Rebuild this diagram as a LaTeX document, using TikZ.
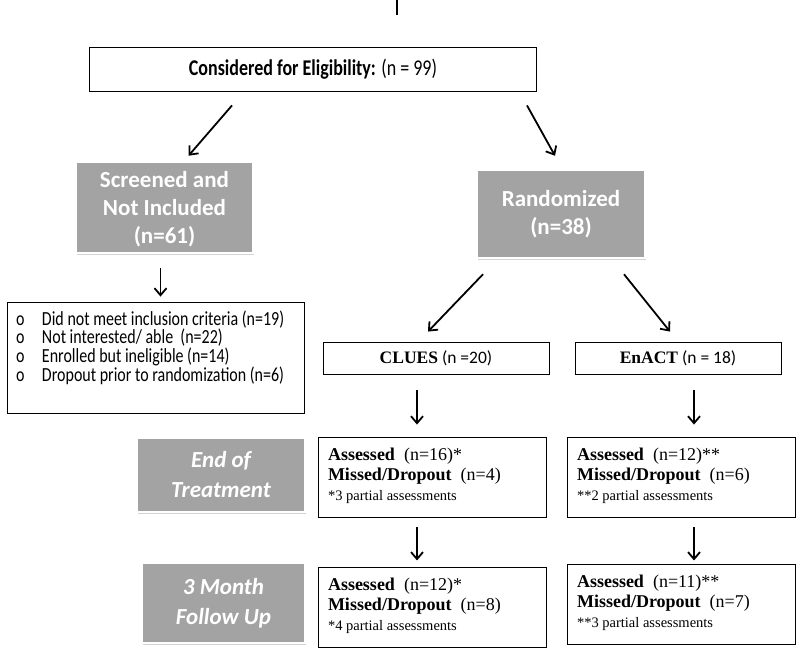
\documentclass[tikz,border=0pt]{standalone}
\usepackage{fontspec}
\setmainfont{Carlito}
\newfontfamily\cambria{Liberation Serif}
\newfontfamily\narrowsans[FakeStretch=0.8]{Carlito}
\usetikzlibrary{positioning,arrows.meta,shadows}
\definecolor{boxgray}{RGB}{163,163,163}

\newcommand{\resulttext}[4]{%
  \parbox[t][68pt][t]{208pt}{\fontsize{18}{20}\selectfont
    \rule{0pt}{17pt}\textbf{Assessed}\ \ (n=#1)#4\\
    \textbf{Missed/Dropout}\ \ (n=#2)\\[0pt]
    {\fontsize{14.5}{16}\selectfont #4#3 partial assessments}}}

\begin{document}
\begin{tikzpicture}[%
    x=1pt,
    y=-1pt,
    node distance=50pt,
    arr/.style={%
      -{Straight Barb[length=7pt,width=12pt]},
      line width=1.8pt
    },
    plainbox/.style={%
      rectangle,
      draw,
      line width=0.9pt,
      inner sep=0pt
    },
    graybox/.style={%
      rectangle,
      fill=boxgray,
      draw=white,
      line width=2.5pt,
      drop shadow={shadow xshift=1pt, shadow yshift=-2pt, opacity=0.35},
      text=white,
      align=center,
      inner sep=0pt,
      font=\fontsize{23}{28}\selectfont\bfseries
    },
    stagebox/.style={%
      graybox,
      font=\fontsize{23}{30}\selectfont\bfseries\itshape
    },
    resbox/.style={%
      rectangle,
      draw,
      line width=0.9pt,
      inner xsep=10pt,
      inner ysep=6pt,
      font=\cambria
    }
  ]
    \useasboundingbox (0,0) rectangle (800,659);

    % stub from above
    \coordinate (stubtop) at (397,0);
    \coordinate (stubend) at (397,15);
    \draw[line width=1.4pt] (stubtop) -- (stubend);

    \node[plainbox, minimum width=447pt, minimum height=44pt] (elig) at (313,69)
      {\narrowsans\fontsize{22.5}{24}\selectfont\textbf{Considered for Eligibility:} (n = 99)};

    \node[graybox, minimum width=177pt, minimum height=91pt] (screened) at (164.5,207.5)
      {\rule{0pt}{20pt}Screened and\\Not Included\\(n=61)};
    \node[graybox, minimum width=168pt, minimum height=88pt] (rand) at (561,214)
      {Randomized\\(n=38)};

    \node[plainbox, minimum width=297pt, minimum height=111pt] (crit) at (155.5,357.5)
      {\parbox[t][107pt][t]{285pt}{\narrowsans\fontsize{20}{18.7}\selectfont
        \rule{0pt}{21pt}\hspace*{3pt}\makebox[26pt][l]{o}Did not meet inclusion criteria (n=19)\\
        \hspace*{3pt}\makebox[26pt][l]{o}Not interested/ able\ \ (n=22)\\
        \hspace*{3pt}\makebox[26pt][l]{o}Enrolled but ineligible (n=14)\\
        \hspace*{3pt}\makebox[26pt][l]{o}Dropout prior to randomization (n=6)}};

    \node[plainbox, minimum width=226pt, minimum height=32pt] (clues) at (436,358)
      {\fontsize{17.5}{20}\selectfont{\cambria\bfseries CLUES}\ (n =20)};
    \node[plainbox, minimum width=206pt, minimum height=32pt] (enact) at (678,358)
      {\fontsize{17.5}{20}\selectfont{\cambria\bfseries EnACT}\ (n = 18)};

    \node[stagebox, minimum width=168pt, minimum height=74pt] (eot) at (221,475)
      {End of\\Treatment};
    \node[stagebox, minimum width=163pt, minimum height=80pt] (fu) at (223.5,603)
      {3 Month\\Follow Up};

    \node[resbox] (cluesEoT) at (432,477) {\resulttext{16}{4}{3}{*}};
    \node[resbox] (enactEoT) at (681,477) {\resulttext{12}{6}{2}{**}};
    \node[resbox] (cluesFU) [below=50pt of cluesEoT] {\resulttext{12}{8}{4}{*}};
    \node[resbox] (enactFU) [below=47pt of enactEoT] {\resulttext{11}{7}{3}{**}};

    \draw[arr] ([xshift=-81pt,yshift=-14pt]elig.south) -- ([xshift=24pt,yshift=5pt]screened.north);
    \draw[arr] ([xshift=214pt,yshift=-14pt]elig.south) -- ([xshift=-6pt,yshift=13pt]rand.north);
    \draw[arr] ([xshift=-4pt,yshift=-14pt]screened.south) -- ([xshift=5pt,yshift=5pt]crit.north);
    \draw[arr] ([xshift=-78pt,yshift=-15pt]rand.south) -- ([xshift=-8pt,yshift=10pt]clues.north);
    \draw[arr] ([xshift=63pt,yshift=-15pt]rand.south) -- ([xshift=-8pt,yshift=10pt]enact.north);
    \draw[arr] ([xshift=-19pt,yshift=-16pt]clues.south) -- ([xshift=-15pt,yshift=12pt]cluesEoT.north);
    \draw[arr] ([xshift=16pt,yshift=-16pt]enact.south) -- ([xshift=13pt,yshift=12pt]enactEoT.north);
    \draw[arr] ([xshift=-15pt,yshift=-10pt]cluesEoT.south) -- ([xshift=-15pt,yshift=7pt]cluesFU.north);
    \draw[arr] ([xshift=13pt,yshift=-10pt]enactEoT.south) -- ([xshift=13pt,yshift=4pt]enactFU.north);
  \end{tikzpicture}
\end{document}
